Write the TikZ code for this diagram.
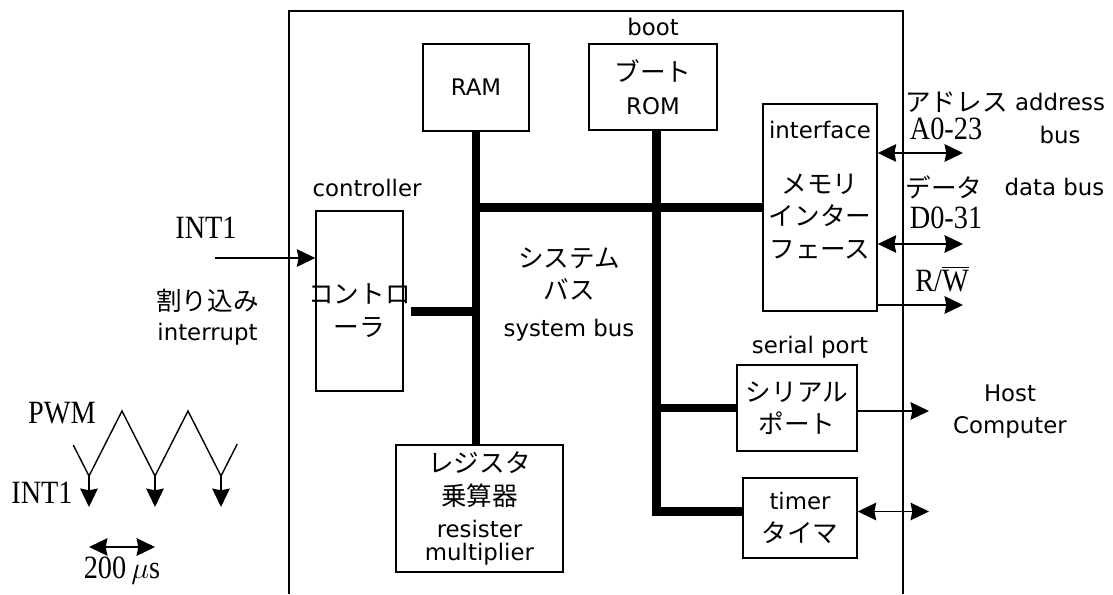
\documentclass[tikz,border=0pt]{standalone}
\usepackage{fontspec}
\setmainfont{DejaVu Sans}
\newfontfamily\jp[Scale=1.12]{Noto Sans CJK JP}
\newfontfamily\tm[FakeStretch=0.87]{Liberation Serif}
\usetikzlibrary{arrows.meta}

\begin{document}
\fontsize{13}{18.5}\selectfont
\begin{tikzpicture}[
        % Stile per i blocchi (rettangoli bianchi)
        blocco/.style={draw=black, fill=white, thick, inner sep=0pt, align=center},
        % Stile per il bus di sistema (linee spesse)
        bus/.style={line width=5.1pt},
        % Stile per le frecce semplici e doppie
        freccia/.style={thick, -{Stealth[length=10.5pt, width=10pt, inset=1pt]}},
        doppia/.style={thick, {Stealth[length=10.5pt, width=10pt, inset=1pt]}-{Stealth[length=10.5pt, width=10pt, inset=1pt]}},
        % Stile per le scritte libere
        testo/.style={inner sep=0pt, align=center},
        % Scritte dei segnali (con grazie)
        segnale/.style={testo, font=\fontsize{18.5}{22}\selectfont\tm}
    ]

        \useasboundingbox (0,0) rectangle (22.26,11.88);

        % --- CONTORNO DEL CHIP ---
        \draw[thick] (5.78,0) |- (18.06,11.66) -- (18.06,0);

        % --- BLOCCHI ---
        \node[blocco, minimum width=2.12cm, minimum height=1.74cm] (RAM)  at (9.52, 10.13) {RAM};
        \node[blocco, minimum width=2.56cm, minimum height=1.72cm] (ROM)  at (13.06, 10.14) {{\jp ブート}\\ROM};
        \node[blocco, minimum width=2.28cm, minimum height=4.14cm] (intf) at (16.40, 7.73) {};
        \node[blocco, minimum width=1.74cm, minimum height=3.6cm]  (ctrl) at (7.19, 5.86) {};
        \node[blocco, minimum width=3.34cm, minimum height=2.54cm] (reg)  at (9.59, 1.71) {{\jp レジスタ}\\{\jp 乗算器}\\resister\\[-5.5pt]multiplier};
        \node[blocco, minimum width=2.4cm, minimum height=1.72cm]  (ser)  at (15.94, 3.72) {{\jp シリアル}\\{\jp ポート}};
        \node[blocco, minimum width=2.28cm, minimum height=1.6cm]  (tmr)  at (16.0, 1.52) {timer\\{\jp タイマ}};

        % --- SCRITTE DEI BLOCCHI ---
        \node[testo] (bootlab) at (13.06, 11.34) {boot};
        \node[testo] (ctrllab) at (7.34, 8.12) {controller};
        \node[testo] (ctrltxt) at (7.19, 5.67) {{\jp コントロ}\\{\jp ーラ}};
        \node[testo] (intflab) at (16.40, 9.28) {interface};
        \node[testo] (intftxt) at (16.40, 7.55) {{\jp メモリ}\\{\jp インター}\\{\jp フェース}};
        \node[testo] (serlab)  at (16.2, 4.94) {serial port};
        \node[testo] (buslab)  at (11.38, 5.99) {{\jp システム}\\{\jp バス}\\[2.5pt]system bus};

        % --- BUS DI SISTEMA ---
        \draw[bus] (RAM.south) -- (RAM.south |- reg.north);
        \draw[bus] (RAM.south |- intf.west) -- (intf.west);
        \draw[bus, shorten <=0.14cm] (ctrl.east |- 0,5.65) -- (RAM.south |- 0,5.65);
        \draw[bus] ([xshift=0.07cm]ROM.south) |- ([yshift=0.13cm]tmr.west);
        \draw[bus] ([xshift=0.07cm]ROM.south |- ser.west) -- (ser.west);

        % --- SEGNALI ESTERNI ---
        \coordinate (int)  at (4.30, 6.72);
        \coordinate (addr) at (19.26, 8.82);
        \coordinate (dato) at (19.26, 7.00);
        \coordinate (rw)   at (19.26, 5.78);
        \coordinate (host) at (18.58, 3.66);
        \coordinate (est)  at (18.58, 1.65);

        \draw[freccia] (int) -- (int -| ctrl.west);
        \draw[doppia] (intf.east |- addr) -- (addr);
        \draw[doppia] (intf.east |- dato) -- (dato);
        \draw[freccia] (intf.east |- rw) -- (rw);
        \draw[freccia] (ser.east |- host) -- (host);
        \draw[doppia] (tmr.east |- est) -- (est);

        \node[segnale] (int1) at (4.12, 7.33) {INT1};
        \node[testo] (intlab) at (4.15, 5.54) {{\jp 割り込み}\\[-1.5pt]interrupt};
        \node[testo] (adrjp) at (19.13, 9.84) {{\jp アドレス}};
        \node[testo] (adren) at (21.20, 9.51) {address\\bus};
        \node[segnale] (adrnum) at (18.92, 9.30) {A0-23};
        \node[testo] (datajp) at (18.88, 8.14) {{\jp データ}};
        \node[testo] (dataen) at (21.09, 8.14) {data bus};
        \node[segnale] (datanum) at (18.92, 7.52) {D0-31};
        \node[segnale] (rwlab) at (18.84, 6.30) {R/$\overline{\hbox{W}}$};
        \node[testo] (hostlab) at (20.2, 3.65) {Host\\Computer};

        % --- FORMA D'ONDA PWM ---
        \draw[thick] (1.465, 2.98) -- (1.78, 2.36) -- (2.44, 3.66) -- (3.10, 2.36)
            -- (3.76, 3.66) -- (4.42, 2.36) -- (4.745, 3.0);
        \foreach \x in {1.78, 3.10, 4.42}
            \draw[freccia] (\x, 2.36) -- (\x, 1.74);

        \coordinate (t0) at (1.78, 0.94);
        \coordinate (t1) at (3.10, 0.94);
        \draw[doppia] (t0) -- (t1);

        \node[segnale] (pwm)   at (1.24, 3.62) {PWM};
        \node[segnale] (int2)  at (0.84, 2.02) {INT1};
        \node[segnale] (tempo) at (2.44, 0.46) {200$\,\mu$s};

    \end{tikzpicture}
\end{document}
